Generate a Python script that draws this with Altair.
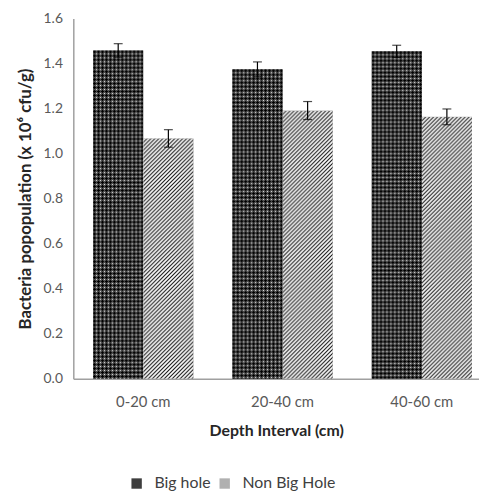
import base64
import altair as alt
import pandas as pd

categories = ["0-20 cm", "20-40 cm", "40-60 cm"]
series_names = ["Big hole", "Non Big Hole"]
big_hole = [1.458, 1.374, 1.454]
big_hole_err = [0.030, 0.033, 0.027]
non_big_hole = [1.067, 1.191, 1.163]
non_big_hole_err = [0.039, 0.040, 0.035]
y_ticks = [0.0, 0.2, 0.4, 0.6, 0.8, 1.0, 1.2, 1.4, 1.6]

rows = []
for name, vals, errs in [(series_names[0], big_hole, big_hole_err),
                         (series_names[1], non_big_hole, non_big_hole_err)]:
    for c, v, e in zip(categories, vals, errs):
        rows.append({"depth": c, "series": name, "value": v, "lo": v - e, "hi": v + e})
df = pd.DataFrame(rows)


def svg_uri(svg):
    return "data:image/svg+xml;base64," + base64.b64encode(svg.encode()).decode()


dark_pattern = svg_uri(
    "<svg xmlns='http://www.w3.org/2000/svg' width='100%' height='100%'>"
    "<defs><pattern id='p' width='4' height='4' patternUnits='userSpaceOnUse'>"
    "<rect width='4' height='4' fill='#4e4e4e'/>"
    "<rect x='1' y='0' width='1' height='3' fill='#000'/>"
    "<rect x='0' y='1' width='3' height='1' fill='#000'/>"
    "<rect x='3' y='3' width='1' height='1' fill='#e0e0e0'/>"
    "</pattern></defs>"
    "<rect width='100%' height='100%' fill='url(#p)' shape-rendering='crispEdges'/></svg>"
)
hatch_pattern = svg_uri(
    "<svg xmlns='http://www.w3.org/2000/svg' width='100%' height='100%'>"
    "<defs><pattern id='h' width='4' height='4' patternUnits='userSpaceOnUse'>"
    "<rect width='4' height='4' fill='#fff'/>"
    "<path d='M-1,1 l2,-2 M0,4 l4,-4 M3,5 l2,-2' stroke='#111' stroke-width='1.1'/>"
    "</pattern></defs>"
    "<rect width='100%' height='100%' fill='url(#h)'/></svg>"
)

Y_TITLE = "Bacteria popopulation (x 10\u2076 cfu/g)"

x_enc = alt.X(
    "depth:N",
    sort=categories,
    scale=alt.Scale(paddingInner=0.2793, paddingOuter=0.0963, align=0.738),
    axis=alt.Axis(title="Depth Interval (cm)", labelAngle=0, labelPadding=16,
                  titlePadding=13, titleFontSize=16, labelFontSize=15),
)
xo_enc = alt.XOffset("series:N", sort=series_names,
                     scale=alt.Scale(paddingInner=0, paddingOuter=0))


def y_enc(field):
    return alt.Y(
        f"{field}:Q",
        title=Y_TITLE,
        scale=alt.Scale(domain=[0, 1.6], nice=False),
        axis=alt.Axis(values=y_ticks, format=".1f", labelPadding=11,
                      titlePadding=9, titleFontSize=17, labelFontSize=14),
    )


base = alt.Chart(df).encode(x=x_enc, xOffset=xo_enc)

bars = base.mark_bar().encode(
    y=y_enc("value"),
    color=alt.Color(
        "series:N",
        sort=series_names,
        scale=alt.Scale(domain=series_names, range=["#3e3e3e", "#b0b0b0"]),
        legend=alt.Legend(
            title=None, orient="none", direction="horizontal",
            legendX=56, legendY=462, symbolType="square", symbolSize=110,
            symbolStrokeWidth=0, labelFont="Lato", labelFontSize=16,
            labelColor="#404040", columnPadding=6, labelOffset=10,
        ),
    ),
)

img_dark = base.mark_image(aspect=False).encode(
    y=y_enc("value"), y2=alt.datum(0), url=alt.value(dark_pattern)
).transform_filter(alt.datum.series == series_names[0])

img_hatch = base.mark_image(aspect=False).encode(
    y=y_enc("value"), y2=alt.datum(0), url=alt.value(hatch_pattern)
).transform_filter(alt.datum.series == series_names[1])

rules = base.mark_rule(color="black", strokeWidth=1.2).encode(
    y=y_enc("lo"), y2="hi:Q"
)
cap_lo = base.mark_tick(orient="horizontal", size=9, thickness=1.2, color="black").encode(
    y=y_enc("lo")
)
cap_hi = base.mark_tick(orient="horizontal", size=9, thickness=1.2, color="black").encode(
    y=y_enc("hi")
)

chart = (
    alt.layer(bars, img_dark, img_hatch, rules, cap_lo, cap_hi)
    .properties(width=410, height=364,
                padding={"left": 8, "top": 1, "right": 0, "bottom": 0})
    .configure_view(stroke=None)
    .configure_axis(
        domainColor="#a0a0a0", domainWidth=1.5, ticks=False, tickSize=0, grid=False,
        labelFont="Lato", labelColor="#595959",
        titleFont="Lato", titleFontWeight="bold", titleColor="#262626",
    )
)

chart.save("out.html", embed_options={"renderer": "svg", "actions": False})
